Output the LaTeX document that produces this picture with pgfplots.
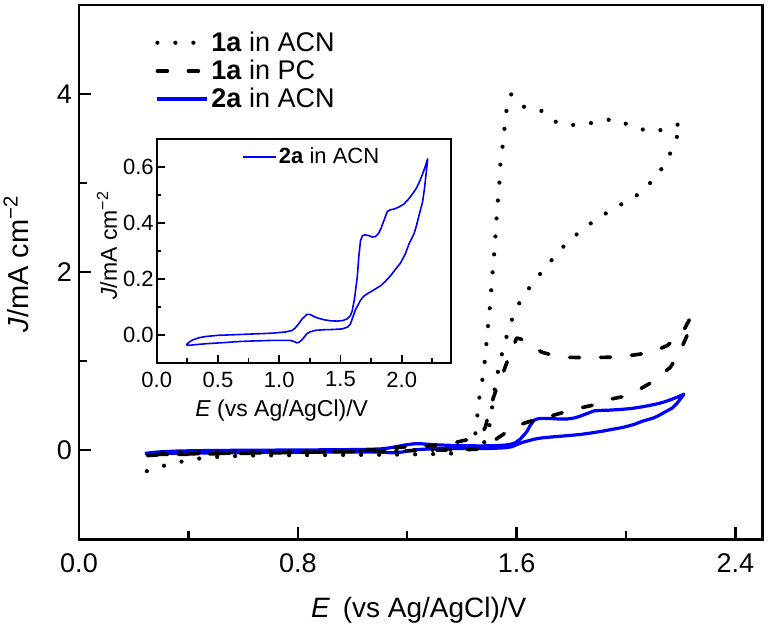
\documentclass[border=0pt]{standalone}
\usepackage{fontspec}
\setmainfont{Liberation Sans}
\usepackage{pgfplots}
\usepackage{pgfplotstable}
\pgfplotsset{compat=1.18}

\pgfplotstableread{
E J
0.241 -0.036
0.27 -0.025
0.296 -0.018
0.35 -0.010
0.405 -0.006
0.5 -0.002
0.679 0.001
0.85 0.004
0.952 0.006
1.05 0.010
1.103 0.015
1.13 0.024
1.158 0.039
1.19 0.058
1.226 0.073
1.25 0.073
1.268 0.069
1.30 0.062
1.363 0.054
1.42 0.050
1.473 0.049
1.52 0.051
1.555 0.057
1.58 0.068
1.596 0.085
1.615 0.13
1.637 0.206
1.65 0.28
1.664 0.338
1.68 0.355
1.70 0.358
1.732 0.355
1.76 0.350
1.787 0.352
1.81 0.362
1.829 0.379
1.86 0.415
1.883 0.442
1.91 0.448
1.937 0.450
1.98 0.458
2.02 0.469
2.06 0.488
2.089 0.505
2.12 0.525
2.143 0.546
2.17 0.575
2.19 0.60
2.212 0.63
2.205 0.60
2.195 0.56
2.185 0.52
2.17 0.475
2.143 0.43
2.12 0.39
2.10 0.361
2.06 0.326
2.03 0.29
1.99 0.257
1.95 0.235
1.91 0.212
1.87 0.193
1.83 0.176
1.77 0.16
1.72 0.147
1.69 0.138
1.664 0.124
1.645 0.108
1.623 0.090
1.60 0.062
1.582 0.039
1.56 0.028
1.514 0.021
1.44 0.019
1.363 0.018
1.30 0.016
1.281 0.014
1.25 0.010
1.226 0.004
1.205 -0.008
1.186 -0.018
1.165 -0.026
1.144 -0.029
1.12 -0.024
1.09 -0.020
0.952 -0.020
0.8 -0.022
0.679 -0.024
0.55 -0.028
0.405 -0.032
0.3 -0.036
0.268 -0.038
0.241 -0.036
}\bluedata

\pgfplotstableread{
E J
0.25 -0.06
0.3 -0.05
0.4 -0.045
0.6 -0.035
0.8 -0.025
1.0 -0.01
1.1 0.01
1.2 0.04
1.3 0.05
1.38 0.09
1.436 0.13
1.46 0.16
1.475 0.2
1.486 0.26
1.504 0.49
1.522 0.65
1.54 0.78
1.565 0.99
1.583 1.12
1.60 1.26
1.615 1.25
1.644 1.195
1.693 1.10
1.76 1.045
1.85 1.04
1.95 1.045
2.03 1.07
2.095 1.10
2.15 1.175
2.19 1.27
2.205 1.31
2.236 1.49
2.225 1.30
2.193 1.08
2.162 0.93
2.095 0.765
2.053 0.69
1.986 0.60
1.937 0.57
1.876 0.504
1.821 0.467
1.754 0.41
1.711 0.373
1.644 0.32
1.595 0.27
1.528 0.13
1.486 0.04
1.45 0.01
1.3 0.0
1.1 -0.01
0.9 -0.02
0.6 -0.03
0.4 -0.04
0.25 -0.05
}\pcdata

\pgfplotstableread{
E J
0.248 -0.235
0.309 -0.175
0.376 -0.127
0.44 -0.093
0.52 -0.07
0.65 -0.058
0.8 -0.055
1.0 -0.052
1.2 -0.048
1.35 -0.04
1.41 -0.02
1.435 0.05
1.448 0.15
1.455 0.34
1.461 0.54
1.473 0.75
1.482 0.95
1.488 1.14
1.494 1.35
1.501 1.55
1.506 1.75
1.511 1.96
1.517 2.16
1.522 2.37
1.526 2.57
1.531 2.78
1.537 2.98
1.540 3.19
1.548 3.39
1.555 3.59
1.562 3.80
1.579 4.00
1.60 3.93
1.623 3.86
1.687 3.82
1.72 3.74
1.752 3.67
1.818 3.65
1.886 3.68
1.951 3.72
1.99 3.68
2.019 3.64
2.086 3.58
2.12 3.59
2.153 3.62
2.202 3.67
2.181 3.47
2.151 3.26
2.109 3.06
2.043 2.87
1.976 2.75
1.910 2.63
1.844 2.49
1.778 2.31
1.721 2.11
1.665 1.90
1.617 1.70
1.587 1.50
1.565 1.295
1.547 1.09
1.532 0.885
1.52 0.68
1.51 0.47
1.50 0.26
1.485 0.10
1.46 0.03
1.4 0.01
1.2 0.0
1.0 -0.005
0.8 -0.01
0.6 -0.015
0.4 -0.02
0.3 -0.025
0.25 -0.03
}\acndata

\begin{document}
\begin{tikzpicture}
\begin{axis}[
  at={(0,0)}, anchor=south west,
  width=341.85pt, height=267.15pt, scale only axis,
  xmin=0, xmax=2.5, ymin=-1, ymax=5,
  xtick={0,0.8,1.6,2.4}, xticklabels={0.0,0.8,1.6,2.4},
  minor xtick={0.4,1.2,2.0},
  ytick={0,2,4}, yticklabels={0,2,4},
  minor ytick={-1,1,3},
  tick align=inside, xtick pos=left, ytick pos=left,
  major tick length=6pt, minor tick length=4pt,
  tick style={black, line width=1.2pt},
  axis line style={line width=1.35pt},
  tick label style={font=\fontsize{13.5}{16}\selectfont},
  xticklabel style={yshift=-3.5pt},
  xlabel={\textit{E}\hspace{0.45em}(vs Ag/AgCl)/V},
  ylabel={\textit{J}/mA cm\textsuperscript{−2}},
  xlabel style={font=\fontsize{14}{16}\selectfont, at={(axis description cs:0.497,-0.1336)}, anchor=center},
  ylabel style={font=\fontsize{14.5}{16}\selectfont, at={(axis description cs:-0.0921,0.515)}, anchor=center},
  legend image code/.code={\draw[#1] (0pt,0pt) -- (25pt,0pt);},
  legend style={draw=none, fill=none, inner sep=0pt, row sep=0.8pt,
    at={(axis description cs:0.111,0.955)}, anchor=north west,
    font=\fontsize{13.5}{16}\selectfont, nodes={inner sep=1pt, anchor=west}},
  legend cell align=left,
]
\addlegendimage{black, line width=2.1pt, dash pattern=on 0pt off 9pt, line cap=round}
\addlegendentry{\textbf{1a} in ACN}
\addlegendimage{black, line width=1.8pt, dash pattern=on 5pt off 10.5pt, line cap=round}
\addlegendentry{\textbf{1a} in PC}
\addlegendimage{blue, line width=1.6pt}
\addlegendentry{\textbf{2a} in ACN}
\addplot[blue, line width=1.6pt, line join=round, forget plot] table[x=E,y=J] {\bluedata};
\addplot[black, line width=1.8pt, dash pattern=on 5pt off 10.5pt, line cap=round, line join=round, forget plot] table[x=E,y=J] {\pcdata};
\addplot[black, line width=2.1pt, dash pattern=on 0pt off 9pt, line cap=round, forget plot] table[x=E,y=J] {\acndata};
\end{axis}

\begin{axis}[
  at={(38.85pt,88.3pt)}, anchor=south west,
  width=147pt, height=111.7pt, scale only axis,
  axis background/.style={fill=white},
  xmin=0, xmax=2.4, ymin=-0.1, ymax=0.7,
  xtick={0,0.5,1,1.5,2}, xticklabels={0.0,0.5,1.0,1.5,2.0},
  minor xtick={0.25,0.75,1.25,1.75,2.25},
  ytick={0,0.2,0.4,0.6}, yticklabels={0.0,0.2,0.4,0.6},
  minor ytick={0.1,0.3,0.5},
  tick align=inside, xtick pos=left, ytick pos=left,
  major tick length=4pt, minor tick length=2.2pt,
  tick style={black, line width=0.9pt},
  axis line style={line width=1pt},
  tick label style={font=\fontsize{11}{13}\selectfont},
  xticklabel style={yshift=-1pt},
  yticklabel style={xshift=2pt},
  label style={font=\fontsize{11.5}{13}\selectfont},
  xlabel={\textit{E} (vs Ag/AgCl)/V},
  ylabel={\textit{J}/mA cm\textsuperscript{−2}},
  xlabel style={at={(axis description cs:0.425,-0.216)}, anchor=center},
  ylabel style={at={(axis description cs:-0.169,0.525)}, anchor=center},
  legend image code/.code={\draw[#1] (0pt,0pt) -- (16.6pt,0pt);},
  legend style={draw=none, fill=none, inner sep=0pt,
    at={(axis description cs:0.289,0.922)}, anchor=west,
    font=\fontsize{11}{13}\selectfont, nodes={inner sep=1pt, anchor=west}},
]
\addplot[blue, line width=0.8pt, line join=round] table[x=E,y=J] {\bluedata};
\addlegendentry{\textbf{2a} in ACN}
\end{axis}
\pgfresetboundingbox
\path[use as bounding box] (-39.5pt,-45.35pt) rectangle (345pt,269.65pt);
\end{tikzpicture}
\end{document}
